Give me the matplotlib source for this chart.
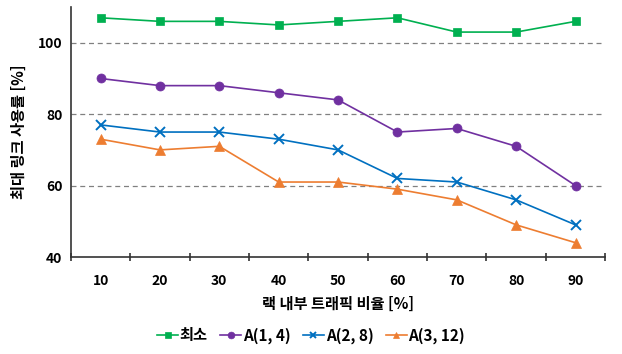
import matplotlib
matplotlib.use("Agg")
import matplotlib.pyplot as plt
from matplotlib.ticker import FixedLocator, NullFormatter

plt.rcParams["font.family"] = ["Noto Sans CJK KR", "DejaVu Sans"]
plt.rcParams["font.weight"] = "bold"

ratios = ["10", "20", "30", "40", "50", "60", "70", "80", "90"]
min_util = [107, 106, 106, 105, 106, 107, 103, 103, 106]
a_1_4 = [90, 88, 88, 86, 84, 75, 76, 71, 60]
a_2_8 = [77, 75, 75, 73, 70, 62, 61, 56, 49]
a_3_12 = [73, 70, 71, 61, 61, 59, 56, 49, 44]

series = [
    ("최소", min_util, "#00B050", "s", 6),
    ("A(1, 4)", a_1_4, "#7030A0", "o", 6.5),
    ("A(2, 8)", a_2_8, "#0070C0", "x", 6.5),
    ("A(3, 12)", a_3_12, "#ED7D31", "^", 6.5),
]

fig = plt.figure(figsize=(6.22, 3.54), dpi=100)
ax = fig.add_axes([0.114, 0.274, 0.859, 0.706])

x = list(range(1, len(ratios) + 1))
for label, vals, color, marker, ms in series:
    ax.plot(x, vals, color=color, marker=marker, markersize=ms, linewidth=1.2,
            markeredgewidth=1.4 if marker == "x" else 0.5, label=label)

ax.set_xlim(0.5, len(ratios) + 0.5)
ax.set_ylim(40, 110)
ax.set_yticks([40, 60, 80, 100])
for y in [60, 80, 100]:
    ax.axhline(y, color="#808080", linestyle=(0, (4, 3)), linewidth=0.9, zorder=0)

# category boundaries carry the tick marks, labels sit in between
ax.xaxis.set_major_locator(FixedLocator([i + 0.5 for i in range(0, len(ratios) + 1)]))
ax.xaxis.set_major_formatter(NullFormatter())
ax.xaxis.set_minor_locator(FixedLocator(x))
ax.set_xticklabels(ratios, minor=True)
ax.tick_params(axis="x", which="major", length=6, width=1.2, direction="inout", color="#333333")
ax.tick_params(axis="x", which="minor", length=0, pad=12, labelsize=10)
ax.tick_params(axis="y", length=0, pad=6, labelsize=10)

for side in ["top", "right"]:
    ax.spines[side].set_visible(False)
ax.spines["left"].set_color("#333333")
ax.spines["bottom"].set_color("#333333")
ax.spines["left"].set_linewidth(1.2)
ax.spines["bottom"].set_linewidth(1.2)

ax.set_xlabel("랙 내부 트래픽 비율 [%]", fontsize=11, fontweight="bold", labelpad=6)
ax.set_ylabel("최대 링크 사용률 [%]", fontsize=11, fontweight="bold", labelpad=8)

fig.legend(loc="lower center", ncol=4, frameon=False, fontsize=11,
           bbox_to_anchor=(0.5, -0.01), handlelength=1.4, handletextpad=0.1,
           columnspacing=0.8, markerscale=0.75)

fig.savefig("out.png", dpi=100)
